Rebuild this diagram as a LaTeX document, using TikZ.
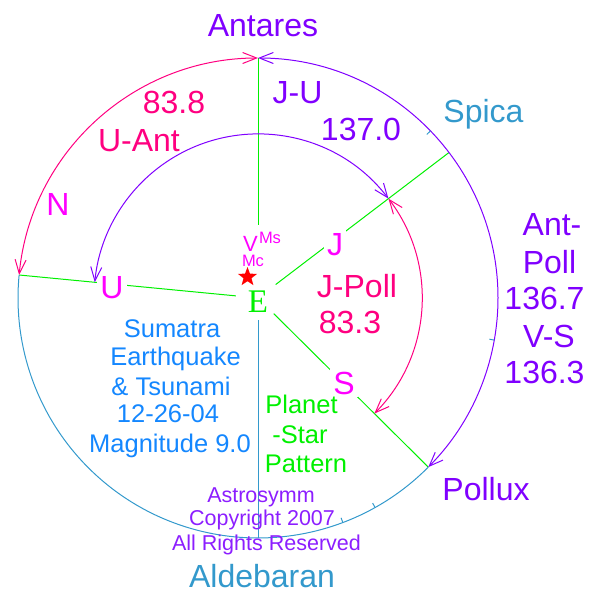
\documentclass[tikz,border=0pt]{standalone}
\usepackage{fontspec}
\setmainfont{Liberation Sans}
\newfontfamily\timesf{Liberation Serif}
\usetikzlibrary{arrows.meta,calc,shapes.geometric}
\definecolor{purp}{RGB}{128,0,255}
\definecolor{pinkc}{RGB}{255,0,128}
\definecolor{mag}{RGB}{255,0,255}
\definecolor{sky}{RGB}{51,153,204}
\definecolor{dod}{RGB}{20,135,255}
\definecolor{limec}{RGB}{0,240,0}
\definecolor{copyc}{RGB}{140,30,255}
\begin{document}
\begin{tikzpicture}[x=1pt,y=1pt,
  lbl/.style={anchor=base,inner sep=0pt},
  big/.style={lbl,font=\fontsize{32}{38}\selectfont},
  mid/.style={lbl,font=\fontsize{25.5}{30}\selectfont},
  small/.style={lbl,font=\fontsize{21.5}{26}\selectfont},
  onray/.style={big,text=mag,fill=white,inner sep=3pt},
  dbl/.style={arrows={Straight Barb[length=14pt,width=11pt]-Straight Barb[length=14pt,width=11pt]}},
  arcline/.style={line width=1pt},
  ray/.style={line width=1pt,draw=limec},
  tick/.style={line width=1pt,draw=sky}]
\useasboundingbox (0,0) rectangle (600,-600);
\coordinate (C) at (258,-298);
\coordinate (ant) at ($(C)+(90:240)$);
\coordinate (spo) at ($(C)+(37.3:240)$);
\coordinate (po) at ($(C)+(-44.8:240)$);
\coordinate (ald) at ($(C)+(-90:240)$);
\coordinate (uo) at ($(C)+(174.5:240)$);
\coordinate (ji) at ($(C)+(37.3:164)$);
\coordinate (vtop) at (258,-225);
% Earth
\node[circle,minimum size=44pt,inner sep=0pt,text height=28pt,text depth=0pt,text=limec,font=\timesf\fontsize{33}{36}\selectfont] (E) at (C) {E};
% rays
\draw[ray] (ant) -- (vtop);
\draw[ray] (spo) -- (E);
\draw[ray] (po) -- (E);
\draw[ray] (uo) -- (E);
\draw[tick] (ald) -- (E);
% labels on rays
\node[onray] (U) at (112,-298) {U};
\node[onray] (J) at (335,-255) {J};
\node[onray] (S) at (344,-394) {S};
% outer circle
\draw[arcline,pinkc,dbl] (uo) arc[start angle=174.5,end angle=90,radius=240];
\draw[arcline,purp,dbl] (ant) arc[start angle=90,end angle=-44.8,radius=240];
\draw[arcline,sky] (po) arc[start angle=-44.8,end angle=-185.5,radius=240];
\foreach \a in {44.1,-10.1,-60.8,-69.3}
  \draw[tick] ($(C)+(\a:235)$) -- ($(C)+(\a:240)$);
% inner arcs
\draw[arcline,purp,dbl] (ji) arc[start angle=37.3,end angle=174.5,radius=164];
\draw[arcline,pinkc,dbl] (ji) arc[start angle=37.3,end angle=-44.8,radius=164];
% centre marks
\node[star,star points=5,star point ratio=2.4,fill=red,minimum size=20pt,inner sep=0pt] (star) at (247.5,-277) {};
\node[lbl,text=mag,font=\fontsize{22}{26}\selectfont] (V) at (250.5,-251.5) {V};
\node[lbl,text=mag,font=\fontsize{16.5}{20}\selectfont] (Ms) at (270,-243) {Ms};
\node[lbl,text=mag,font=\fontsize{16.5}{20}\selectfont] (Mc) at (253,-266.5) {Mc};
% star names
\node[big,text=purp] (antares) at (263,-36) {Antares};
\node[big,text=sky] (spica) at (483.5,-122) {Spica};
\node[big,text=purp] (pollux) at (486,-500) {Pollux};
\node[big,text=sky] (aldebaran) at (262,-587) {Aldebaran};
% values
\node[big,text=purp] (ju) at (297.5,-103) {J-U};
\node[big,text=purp] (ju2) at (361,-140) {137.0};
\node[big,text=pinkc] (ua2) at (174,-113) {83.8};
\node[big,text=pinkc] (ua) at (139,-151) {U-Ant};
\node[big,text=mag] (N) at (58,-215) {N};
\node[big,text=pinkc] (jp) at (357,-297) {J-Poll};
\node[big,text=pinkc] (jp2) at (350,-333) {83.3};
\node[big,text=purp] (ap1) at (552,-235) {Ant-};
\node[big,text=purp] (ap2) at (549.5,-273) {Poll};
\node[big,text=purp] (ap3) at (544.5,-309) {136.7};
\node[big,text=purp] (vs1) at (549,-347) {V-S};
\node[big,text=purp] (vs2) at (544.5,-383) {136.3};
% event text
\node[mid,text=dod] (t1) at (172,-337) {Sumatra};
\node[mid,text=dod] (t2) at (175.5,-365) {Earthquake};
\node[mid,text=dod] (t3) at (171,-395) {\& Tsunami};
\node[mid,text=dod] (t4) at (168,-422) {12-26-04};
\node[mid,text=dod] (t5) at (170,-452) {Magnitude 9.0};
\node[mid,text=limec] (p1) at (301.5,-413) {Planet};
\node[mid,text=limec] (p2) at (300,-443) {-Star};
\node[mid,text=limec] (p3) at (306,-472) {Pattern};
\node[small,text=copyc] (c1) at (261,-502) {Astrosymm};
\node[small,text=copyc] (c2) at (262,-525) {Copyright 2007};
\node[small,text=copyc] (c3) at (266.5,-550) {All Rights Reserved};
\end{tikzpicture}
\end{document}
